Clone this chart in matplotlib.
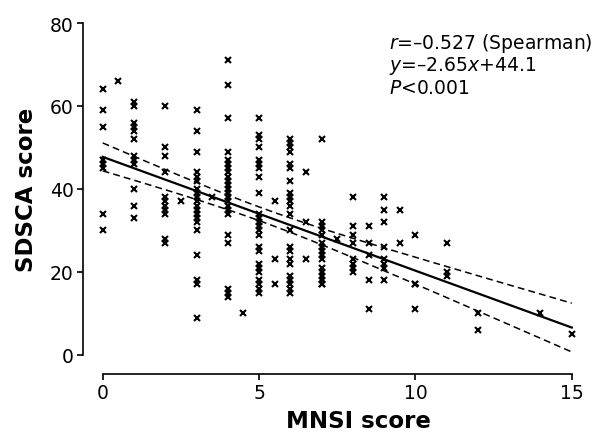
import numpy as np
import matplotlib
matplotlib.use("Agg")
import matplotlib.pyplot as plt

# ---- data ----
mnsi_levels = [0, 0.5, 1, 2, 2.5, 3, 3.5, 4, 4.5, 5, 5.5, 6, 6.5, 7, 7.5, 8, 8.5, 9, 9.5, 10, 11, 12, 14, 15]
sdsca_groups = [
    [64, 59, 55, 47, 46, 45, 34, 30],
    [66],
    [61, 60, 56, 55, 54, 52, 48, 47, 46, 40, 36, 33],
    [60, 50, 48, 44, 38, 37, 36, 35, 34, 28, 27],
    [37],
    [59, 54, 49, 44, 43, 42, 40, 39, 38, 37, 36, 35, 34, 33, 32, 30, 24, 18, 17, 9],
    [38],
    [71, 65, 57, 49, 47, 46, 45, 44, 43, 42, 41, 40, 39, 38, 37, 36, 35, 34, 29, 27, 16, 15, 14],
    [10],
    [57, 53, 52, 50, 47, 46, 45, 43, 39, 34, 33, 32, 31, 30, 29, 26, 25, 22, 21, 20, 18, 17, 16, 15],
    [37, 23, 17],
    [52, 51, 50, 49, 46, 45, 42, 39, 38, 37, 36, 34, 30, 26, 25, 23, 22, 19, 18, 17, 16, 15],
    [44, 32, 23],
    [52, 32, 31, 30, 29, 27, 26, 25, 24, 23, 21, 20, 19, 18, 17, 17],
    [28],
    [38, 31, 29, 27, 23, 22, 21, 20],
    [31, 27, 24, 18, 11],
    [38, 35, 32, 26, 23, 22, 21, 18],
    [35, 27],
    [29, 17, 17, 11],
    [27, 20, 19],
    [10, 6],
    [10],
    [5],
]
x_ticks = [0, 5, 10, 15]
y_ticks = [0, 20, 40, 60, 80]
stats_lines = [r"$r$=–0.527 (Spearman)", r"$y$=–2.65$x$+44.1", r"$P$<0.001"]
x_label = "MNSI score"
y_label = "SDSCA score"

# ---- flatten ----
mnsi = np.concatenate([[lv] * len(g) for lv, g in zip(mnsi_levels, sdsca_groups)]).astype(float)
sdsca = np.concatenate(sdsca_groups).astype(float)

# ---- linear fit with 95% CI of the mean ----
n = len(mnsi)
slope, intercept = np.polyfit(mnsi, sdsca, 1)
resid = sdsca - (slope * mnsi + intercept)
s = np.sqrt(np.sum(resid ** 2) / (n - 2))
xbar = mnsi.mean()
sxx = np.sum((mnsi - xbar) ** 2)
t_crit = 1.973
xs = np.linspace(0, 15, 200)
fit = slope * xs + intercept
half = t_crit * s * np.sqrt(1.0 / n + (xs - xbar) ** 2 / sxx)

plt.rcParams["font.family"] = ["DejaVu Sans"]
plt.rcParams["mathtext.fontset"] = "dejavusans"

fig = plt.figure(figsize=(6, 4.35), dpi=100)
ax = fig.add_axes([0.1378, 0.1379, 0.8412, 0.826])

ax.plot(mnsi, sdsca, linestyle="none", marker="x", color="black", markersize=4.5, markeredgewidth=1.5)
ax.plot(xs, fit, color="black", linewidth=1.6)
ax.plot(xs, fit + half, color="black", linewidth=1.1, dashes=(4.5, 2.7))
ax.plot(xs, fit - half, color="black", linewidth=1.1, dashes=(4.5, 2.7))

ax.set_xlim(-0.64, 15.5)
ax.set_ylim(-4.6, 82)
ax.set_xticks(x_ticks)
ax.set_yticks(y_ticks)
for side in ("top", "right"):
    ax.spines[side].set_visible(False)
ax.spines["left"].set_bounds(0, 80)
ax.spines["bottom"].set_bounds(0, 15)
for side in ("left", "bottom"):
    ax.spines[side].set_linewidth(1.2)
ax.tick_params(direction="out", length=4, width=1.2, labelsize=13.5, pad=2.5, colors="black")

ax.set_xlabel(x_label, fontsize=16.5, fontweight="bold")
ax.set_ylabel(y_label, fontsize=16.5, fontweight="bold")
ax.xaxis.set_label_coords(0.546, -0.129)
ax.xaxis.label.set_va("center")
ax.yaxis.set_label_coords(-0.112, 0.515)
ax.yaxis.label.set_va("center")

for txt, yb in zip(stats_lines, [74.0, 68.6, 63.1]):
    ax.text(9.16, yb, txt, fontsize=13.5, ha="left", va="baseline")

fig.savefig("out.png", dpi=100)
